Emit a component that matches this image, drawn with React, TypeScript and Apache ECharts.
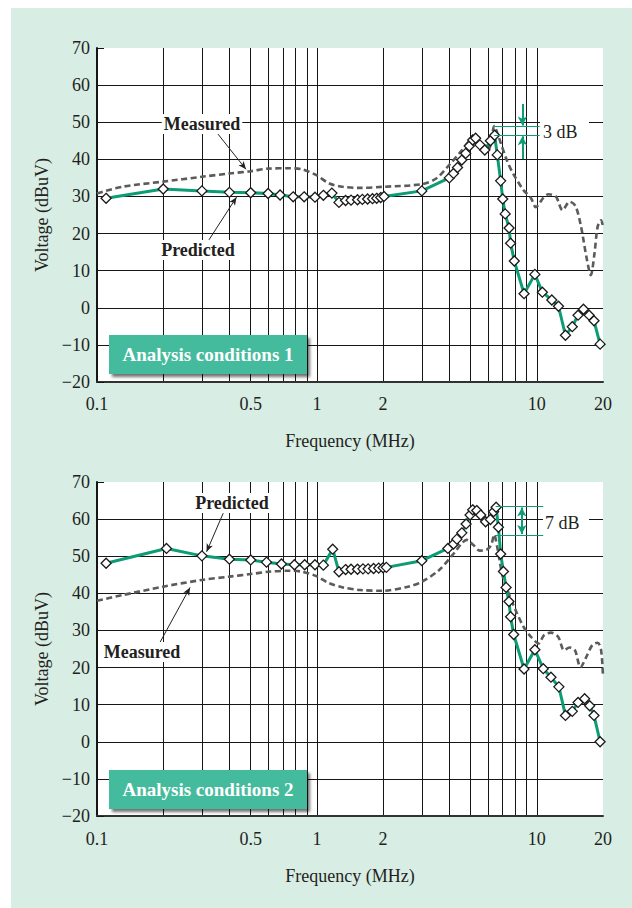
import React, { useEffect, useRef } from "react";
import * as echarts from "echarts";

// ---------- data (frequency MHz, level dBuV) ----------
const X_GRID = [0.1, 0.2, 0.3, 0.4, 0.5, 0.6, 0.7, 0.8, 0.9, 1, 2, 3, 4, 5, 6, 7, 8, 9, 10, 20];
const X_LABELS = [0.1, 0.5, 1, 2, 10, 20];

const predicted1 = [
  [0.11, 29.5], [0.2, 32.0], [0.3, 31.5], [0.4, 31.1], [0.5, 31.0], [0.6, 30.8], [0.68, 30.4],
  [0.78, 29.9], [0.875, 29.9], [0.98, 29.8], [1.07, 30.3], [1.17, 30.9], [1.26, 28.4], [1.35, 28.9],
  [1.43, 29.0], [1.53, 29.1], [1.61, 29.2], [1.7, 29.3], [1.79, 29.4], [1.87, 29.5], [1.95, 29.7],
  [2.02, 30.0], [3.0, 31.5], [4.0, 35.0], [4.18, 36.2], [4.36, 37.8], [4.56, 39.8], [4.75, 41.6],
  [4.93, 43.6], [5.11, 45.2], [5.27, 45.7], [5.51, 43.9], [5.8, 42.5], [6.15, 45.0], [6.43, 46.5],
  [6.61, 41.2], [6.85, 34.2], [7.0, 29.3], [7.18, 25.3], [7.48, 21.5], [7.6, 17.4], [7.9, 12.6],
  [8.75, 3.8], [9.8, 9.0], [10.6, 4.2], [11.7, 2.1], [12.55, 0.4], [13.5, -7.4], [14.5, -5.1],
  [15.4, -2.0], [16.3, -0.4], [17.3, -2.0], [18.2, -3.5], [19.4, -9.8],
];

const measured1 = [
  [0.1, 30.8], [0.13, 32.6], [0.2, 34.0], [0.3, 35.3], [0.4, 36.2], [0.5, 36.8], [0.6, 37.5],
  [0.75, 37.6], [0.86, 37.3], [0.99, 35.8], [1.14, 33.5], [1.31, 32.6], [1.57, 32.3], [2.0, 32.6],
  [3.0, 33.3], [3.5, 34.9], [4.0, 38.5], [4.5, 42.0], [4.9, 44.8], [5.1, 46.1], [5.5, 43.9],
  [5.9, 41.8], [6.2, 44.3], [6.4, 49.0], [6.7, 46.1], [7.3, 39.8], [7.8, 36.2], [8.7, 31.7],
  [9.4, 29.6], [9.9, 27.1], [10.7, 29.6], [11.3, 30.6], [12.2, 30.0], [13.1, 26.3], [14.1, 28.6],
  [15.0, 27.4], [15.9, 21.8], [16.8, 13.8], [17.6, 8.8], [18.3, 14.7], [18.9, 21.8], [19.6, 23.6],
  [20, 21.8],
];

const predicted2 = [
  [0.11, 48.1], [0.207, 52.1], [0.3, 50.1], [0.4, 49.2], [0.5, 49.0], [0.59, 48.4], [0.69, 47.9],
  [0.79, 47.7], [0.88, 47.7], [0.98, 47.7], [1.07, 47.6], [1.18, 51.9], [1.26, 45.8], [1.35, 46.4],
  [1.43, 46.5], [1.53, 46.5], [1.62, 46.6], [1.71, 46.6], [1.81, 46.7], [1.91, 46.8], [2.0, 46.9],
  [2.07, 47.0], [3.0, 48.8], [3.94, 52.1], [4.18, 53.3], [4.33, 54.6], [4.56, 56.3], [4.77, 58.7],
  [4.97, 61.1], [5.11, 62.5], [5.33, 62.3], [5.56, 61.1], [5.85, 59.3], [6.15, 59.9], [6.36, 62.0],
  [6.53, 63.2], [6.69, 57.8], [6.85, 50.6], [7.05, 45.9], [7.25, 41.6], [7.47, 37.8], [7.6, 33.7],
  [7.85, 28.9], [8.75, 19.6], [9.8, 24.8], [10.7, 19.7], [11.6, 17.4], [12.6, 14.8], [13.5, 7.1],
  [14.5, 8.2], [15.4, 10.6], [16.5, 11.6], [17.4, 9.7], [18.2, 7.1], [19.4, 0],
];

const measured2 = [
  [0.1, 38.0], [0.13, 39.5], [0.2, 41.8], [0.3, 43.6], [0.4, 44.5], [0.5, 45.2], [0.6, 45.8],
  [0.75, 46.1], [0.86, 45.8], [0.99, 44.7], [1.14, 42.7], [1.31, 41.6], [1.57, 40.9], [2.0, 40.7],
  [2.6, 41.8], [3.0, 43.1], [3.6, 46.3], [4.2, 50.8], [4.56, 53.5], [4.8, 54.4], [5.15, 53.0],
  [5.5, 51.5], [5.9, 51.7], [6.2, 53.0], [6.4, 55.8], [6.6, 52.6], [7.0, 44.5], [7.55, 39.1],
  [8.1, 34.8], [8.7, 31.0], [9.4, 28.3], [10.2, 26.5], [10.8, 28.8], [11.6, 29.4], [12.5, 28.3],
  [13.3, 24.7], [14.1, 25.4], [14.9, 24.7], [15.8, 20.1], [16.8, 22.9], [17.9, 26.1], [18.9, 26.7],
  [19.6, 24.7], [20, 17.5],
];

// annotation anchors (data coordinates)
const arrows1 = [
  [[0.355, 46.8], [0.476, 37.3]], // Measured
  [[0.323, 18.3], [0.431, 29.8]], // Predicted
];
const arrows2 = [
  [[0.375, 61.6], [0.315, 51.2]], // Predicted
  [[0.193, 26.7], [0.265, 41.6]], // Measured
];
const dB1 = { x0: 6.4, x1: 10.3, top: 48.9, bottom: 46.4, ax: 8.6, arrowFar: [54.9, 40.1] };
const dB2 = { x0: 6.45, x1: 10.7, top: 63.5, bottom: 55.6, ax: 8.55 };

// ---------- styles ----------
const FONT = '"Liberation Serif", "Times New Roman", serif';
const TEAL = "#0c9c76";
const INK = "#231f20";

const fmtX = (v: number) => (v < 0.95 ? v.toFixed(1) : String(Math.round(v)));
const fmtY = (v: number) => (v < 0 ? "\u2212" + Math.abs(v) : String(v));

function xAxis(gridIndex: number, margin: number, nameGap: number) {
  return {
    type: "log",
    logBase: 10,
    gridIndex,
    min: 0.1,
    max: 20,
    name: "Frequency (MHz)",
    nameLocation: "middle",
    nameGap,
    nameTextStyle: { fontFamily: FONT, fontSize: 18, color: INK },
    axisLine: { show: true, onZero: false, lineStyle: { color: "#333", width: 2 } },
    axisTick: { show: false, customValues: X_GRID },
    axisLabel: {
      customValues: X_LABELS,
      formatter: (v: number) => fmtX(v),
      fontFamily: FONT,
      fontSize: 18,
      color: INK,
      margin,
    },
    splitLine: { show: true, showMinLine: false, showMaxLine: false, lineStyle: { color: "#161616", width: 1 } },
  };
}

function yAxis(gridIndex: number) {
  return {
    type: "value",
    gridIndex,
    min: -20,
    max: 70,
    interval: 10,
    name: "Voltage (dBuV)",
    nameLocation: "middle",
    nameGap: 46,
    nameRotate: 90,
    nameTextStyle: { fontFamily: FONT, fontSize: 18, color: INK },
    axisLine: { show: true, lineStyle: { color: "#161616", width: 2 } },
    axisTick: { show: true, inside: true, length: 7, lineStyle: { color: "#161616", width: 1 } },
    axisLabel: { formatter: (v: number) => fmtY(v), fontFamily: FONT, fontSize: 18, color: INK, margin: 7 },
    splitLine: { show: true, showMaxLine: false, lineStyle: { color: "#161616", width: 1 } },
  };
}

function labelArrow(seg: number[][]) {
  return [
    { coord: seg[0], symbol: "none", lineStyle: { color: "#222", width: 1, type: "solid" } },
    { coord: seg[1], symbol: "arrow", symbolSize: [5, 8] },
  ];
}

function tealLine(a: number[], b: number[], s0: string, s1: string, width: number) {
  return [
    { coord: a, symbol: s0, symbolSize: [7, 9], lineStyle: { color: TEAL, width, type: "solid" } },
    { coord: b, symbol: s1, symbolSize: [7, 9] },
  ];
}

function annotations1() {
  return [
    ...arrows1.map(labelArrow),
    tealLine([dB1.x0, dB1.top], [dB1.x1, dB1.top], "none", "none", 1),
    tealLine([dB1.x0, dB1.bottom], [dB1.x1, dB1.bottom], "none", "none", 1),
    tealLine([dB1.ax, dB1.arrowFar[0]], [dB1.ax, dB1.top + 0.2], "none", "arrow", 2),
    tealLine([dB1.ax, dB1.arrowFar[1]], [dB1.ax, dB1.bottom - 0.2], "none", "arrow", 2),
  ];
}

function annotations2() {
  return [
    ...arrows2.map(labelArrow),
    tealLine([dB2.x0 + 0.05, dB2.top], [dB2.x1, dB2.top], "none", "none", 1),
    tealLine([dB2.x0, dB2.bottom], [dB2.x1, dB2.bottom], "none", "none", 1),
    tealLine([dB2.ax, dB2.top - 0.4], [dB2.ax, dB2.bottom + 0.4], "arrow", "arrow", 2),
  ];
}

function seriesPair(i: number, meas: number[][], pred: number[][], marks: any[]) {
  return [
    {
      type: "line",
      name: "Measured",
      xAxisIndex: i,
      yAxisIndex: i,
      data: meas,
      symbol: "none",
      smooth: 0.3,
      lineStyle: { color: "#5b5b5b", width: 2.6, type: [6, 3.5] },
      z: 2,
      emphasis: { disabled: true },
    },
    {
      type: "line",
      name: "Predicted",
      xAxisIndex: i,
      yAxisIndex: i,
      data: pred,
      symbol: "diamond",
      symbolSize: 10,
      itemStyle: { color: "#ffffff", borderColor: "#1a1a1a", borderWidth: 1.3 },
      lineStyle: { color: TEAL, width: 3 },
      z: 3,
      emphasis: { disabled: true },
      markLine: {
        silent: true,
        animation: false,
        label: { show: false },
        emphasis: { disabled: true },
        data: marks,
      },
    },
  ];
}

function text(t: string, x: number, y: number, opts: any = {}) {
  return {
    type: "text",
    x,
    y,
    z: 110,
    style: {
      text: t,
      font: `${opts.bold ? "bold " : ""}${opts.size || 18}px ${FONT}`,
      fill: opts.fill || INK,
      align: opts.align || "center",
      verticalAlign: "middle",
      backgroundColor: opts.bg,
      padding: opts.bg ? [1, 2] : 0,
    },
  };
}

function box(y: number, label: string) {
  return [
    {
      type: "rect",
      z: 105,
      shape: { x: 109, y, width: 198, height: 39 },
      style: {
        fill: "#45bb9d",
        shadowBlur: 3,
        shadowOffsetX: 3,
        shadowOffsetY: 3,
        shadowColor: "rgba(0,0,0,0.55)",
      },
    },
    text(label, 208, y + 19.5, { bold: true, size: 19, fill: "#ffffff" }),
  ];
}

export default function App() {
  const ref = useRef<HTMLDivElement>(null);
  useEffect(() => {
    if (!ref.current) return;
    const chart = echarts.init(ref.current, undefined, { renderer: "svg" });
    chart.setOption({
      animation: false,
      backgroundColor: "#ffffff",
      textStyle: { fontFamily: FONT },
      grid: [
        { left: 97, top: 48, width: 506, height: 334, show: true, backgroundColor: "#ffffff", borderWidth: 0 },
        { left: 97, top: 482, width: 506, height: 334, show: true, backgroundColor: "#ffffff", borderWidth: 0 },
      ],
      xAxis: [xAxis(0, 13, 50), xAxis(1, 14, 51)],
      yAxis: [yAxis(0), yAxis(1)],
      series: [
        ...seriesPair(0, measured1, predicted1, annotations1()),
        ...seriesPair(1, measured2, predicted2, annotations2()),
      ],
      graphic: [
        { type: "rect", z: -10, silent: true, shape: { x: 11, y: 8, width: 621, height: 900 }, style: { fill: "#d8ede4" } },
        // gaps in grid lines behind the dB labels
        { type: "rect", z: 100, shape: { x: 540, y: 120, width: 49, height: 4 }, style: { fill: "#ffffff" } },
        { type: "rect", z: 100, shape: { x: 543, y: 517, width: 46, height: 4 }, style: { fill: "#ffffff" } },
        text("3 dB", 543, 132, { align: "left" }),
        text("7 dB", 545, 523, { align: "left" }),
        text("Measured", 202, 124, { bold: true, bg: "#ffffff" }),
        text("Predicted", 198, 250, { bold: true, bg: "#ffffff" }),
        text("Predicted", 232, 503, { bold: true, bg: "#ffffff" }),
        text("Measured", 142, 652, { bold: true, bg: "#ffffff" }),
        ...box(335, "Analysis conditions 1"),
        ...box(770, "Analysis conditions 2"),
      ],
    });
    return () => chart.dispose();
  }, []);
  return (
    <div
      ref={ref}
      style={{ position: "absolute", left: 0, top: 0, width: 632, height: 908 }}
    />
  );
}
